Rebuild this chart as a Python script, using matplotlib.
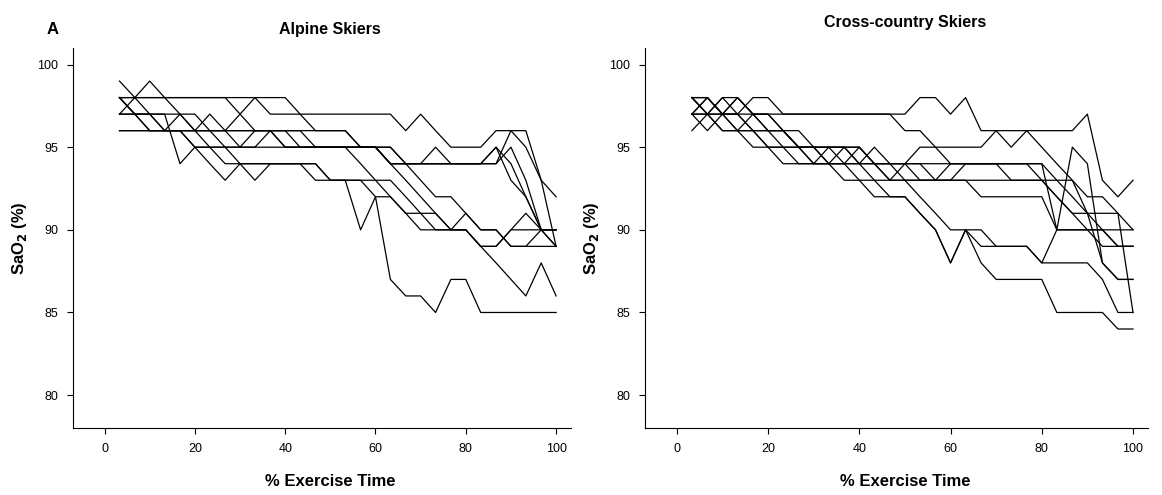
import matplotlib.pyplot as plt
import matplotlib.transforms as mtransforms

# % exercise time grid (sampling points)
pct_time = [3.3, 6.7, 10, 13.3, 16.7, 20, 23.3, 26.7, 30, 33.3,
            36.7, 40, 43.3, 46.7, 50, 53.3, 56.7, 60, 63.3, 66.7,
            70, 73.3, 76.7, 80, 83.3, 86.7, 90, 93.3, 96.7, 100]

# SaO2 (%) per alpine skier
alpine = [
    [97, 97, 96, 96, 96, 95, 95, 94, 94, 94, 94, 94, 94, 93, 93, 93, 90, 92, 87, 86, 86, 85, 87, 87, 85, 85, 85, 85, 85, 85],
    [98, 97, 97, 96, 96, 96, 95, 95, 95, 96, 96, 96, 96, 96, 96, 96, 95, 95, 94, 93, 92, 91, 90, 90, 89, 88, 87, 86, 88, 86],
    [98, 98, 98, 98, 98, 98, 98, 98, 97, 98, 97, 97, 97, 97, 97, 97, 97, 97, 97, 96, 97, 96, 95, 95, 95, 96, 96, 96, 93, 92],
    [98, 98, 98, 98, 98, 98, 98, 98, 98, 98, 98, 98, 97, 96, 96, 96, 95, 95, 94, 94, 94, 94, 94, 94, 94, 95, 94, 92, 90, 90],
    [99, 98, 97, 97, 97, 96, 96, 96, 97, 96, 96, 95, 95, 95, 95, 95, 95, 95, 94, 94, 94, 94, 94, 94, 94, 95, 93, 92, 90, 89],
    [97, 97, 97, 97, 94, 95, 95, 95, 95, 95, 95, 95, 95, 95, 95, 95, 95, 95, 95, 94, 94, 94, 94, 94, 94, 94, 95, 93, 90, 90],
    [96, 96, 96, 96, 96, 96, 96, 95, 94, 93, 94, 94, 94, 94, 93, 93, 93, 93, 92, 91, 91, 90, 90, 90, 89, 89, 90, 91, 90, 89],
    [98, 97, 97, 96, 96, 95, 94, 93, 94, 94, 94, 94, 94, 94, 93, 93, 93, 92, 92, 91, 90, 90, 90, 90, 89, 89, 90, 90, 90, 90],
    [97, 98, 99, 98, 97, 96, 97, 96, 96, 96, 96, 96, 95, 95, 95, 95, 95, 95, 94, 94, 94, 95, 94, 94, 94, 94, 96, 95, 93, 89],
    [96, 96, 96, 96, 96, 96, 96, 96, 96, 96, 96, 96, 96, 95, 95, 95, 95, 95, 95, 94, 93, 92, 92, 91, 90, 90, 89, 89, 89, 89],
    [98, 97, 96, 96, 97, 97, 96, 96, 95, 95, 96, 95, 95, 95, 95, 95, 94, 93, 93, 92, 91, 91, 90, 91, 90, 90, 89, 89, 90, 90],
]

# SaO2 (%) per cross-country skier
cross_country = [
    [98, 97, 98, 97, 98, 98, 97, 97, 97, 97, 97, 97, 97, 97, 97, 98, 98, 97, 98, 96, 96, 96, 96, 96, 96, 96, 97, 93, 92, 93],
    [98, 98, 97, 98, 97, 97, 96, 95, 95, 95, 95, 95, 94, 94, 94, 94, 94, 94, 94, 94, 94, 94, 94, 94, 90, 95, 94, 88, 87, 87],
    [97, 98, 97, 96, 96, 95, 95, 95, 95, 94, 95, 94, 95, 94, 94, 94, 93, 93, 94, 94, 94, 93, 93, 93, 93, 92, 91, 91, 91, 85],
    [98, 97, 98, 98, 97, 96, 96, 96, 95, 95, 95, 94, 94, 93, 94, 95, 95, 94, 94, 94, 94, 94, 94, 93, 92, 91, 90, 90, 89, 89],
    [97, 98, 97, 96, 97, 97, 96, 95, 94, 95, 95, 95, 94, 94, 93, 93, 93, 93, 93, 93, 93, 93, 93, 93, 92, 91, 91, 90, 89, 89],
    [96, 97, 97, 97, 96, 96, 96, 95, 95, 95, 94, 95, 94, 94, 94, 93, 93, 93, 93, 92, 92, 92, 92, 92, 90, 90, 90, 90, 90, 90],
    [98, 98, 97, 97, 97, 96, 96, 95, 95, 94, 94, 94, 94, 93, 93, 93, 93, 94, 94, 94, 94, 94, 94, 94, 93, 93, 91, 88, 87, 87],
    [97, 97, 96, 96, 95, 95, 94, 94, 94, 94, 94, 93, 93, 92, 92, 91, 90, 88, 90, 88, 87, 87, 87, 87, 85, 85, 85, 85, 84, 84],
    [97, 96, 97, 97, 96, 96, 95, 95, 94, 94, 94, 94, 93, 93, 93, 92, 91, 90, 90, 90, 89, 89, 89, 88, 90, 90, 90, 89, 89, 89],
    [98, 97, 97, 98, 97, 97, 97, 97, 97, 97, 97, 97, 97, 97, 96, 96, 95, 95, 95, 95, 96, 95, 96, 95, 94, 93, 92, 92, 91, 90],
    [97, 97, 96, 96, 96, 95, 95, 94, 94, 94, 93, 93, 92, 92, 92, 91, 90, 88, 90, 89, 89, 89, 89, 88, 88, 88, 88, 87, 85, 85],
]

panels = [("Alpine Skiers", alpine), ("Cross-country Skiers", cross_country)]

plt.rcParams['font.family'] = ['Liberation Sans', 'DejaVu Sans']

fig = plt.figure(figsize=(11.62, 4.95), dpi=100)
ax_left = fig.add_axes([0.0628, 0.135, 0.4286, 0.768])
ax_right = fig.add_axes([0.555, 0.135, 0.433, 0.768])

for ax, (title, subjects) in zip([ax_left, ax_right], panels):
    for sao2 in subjects:
        ax.plot(pct_time, sao2, color='black', linewidth=0.9)

    ax.set_xlim(-7, 103.3)
    ax.set_ylim(78, 101)
    ax.set_xticks([0, 20, 40, 60, 80, 100])
    ax.set_yticks([80, 85, 90, 95, 100])
    ax.spines['top'].set_visible(False)
    ax.spines['right'].set_visible(False)
    ax.tick_params(direction='out', length=4.5, width=0.8, labelsize=9, pad=6)

    ax.set_ylabel("SaO$_\\mathbf{2}$ (%)", fontsize=12, fontweight='bold', labelpad=6)
    ax.set_xlabel("% Exercise Time", fontsize=12, fontweight='bold', labelpad=18)
    ax.xaxis.set_label_coords(0.517, -0.12)

    trans = mtransforms.blended_transform_factory(ax.transData, fig.transFigure)
    ax.text(50, 0.94 if ax is ax_left else 0.955, title, transform=trans,
            ha='center', va='center', fontsize=11.5, fontweight='bold')

fig.text(0.045, 0.94, "A", fontsize=12, fontweight='bold', ha='center', va='center')

fig.savefig("out.png", dpi=100)
